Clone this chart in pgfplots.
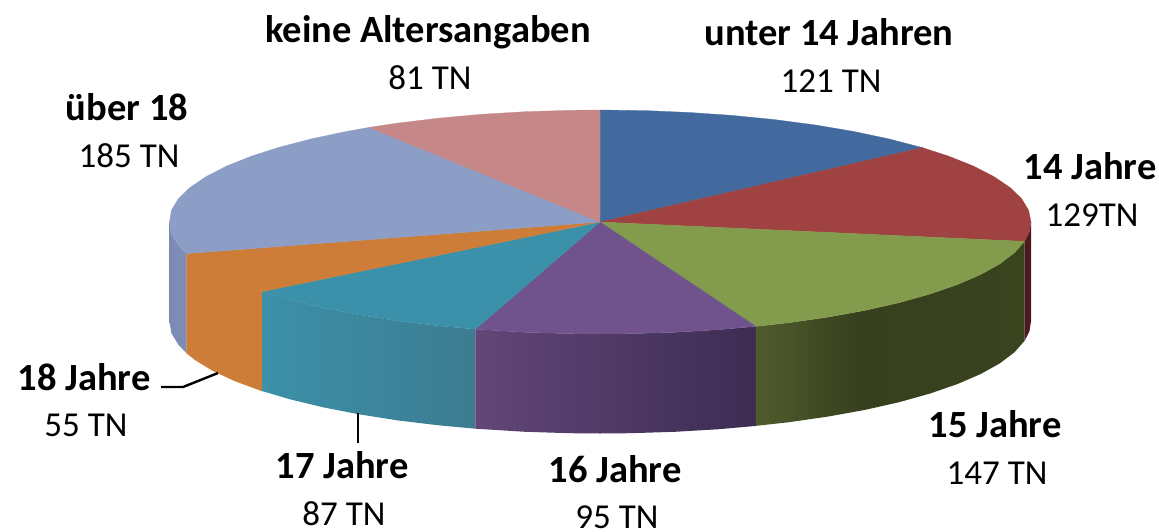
\documentclass[border=0pt]{standalone}
\usepackage{pgfplots}
\pgfplotsset{compat=1.18}
\usepackage{fontspec}
\setmainfont{Carlito}
\definecolor{tblue}{RGB}{66,106,158}
\definecolor{tred}{RGB}{160,65,66}
\definecolor{tgreen}{RGB}{131,155,76}
\definecolor{tpurple}{RGB}{112,82,140}
\definecolor{tteal}{RGB}{60,145,170}
\definecolor{torange}{RGB}{205,125,55}
\definecolor{tlblue}{RGB}{140,157,198}
\definecolor{tpink}{RGB}{197,135,136}
\definecolor{gwa}{RGB}{80,92,45}
\definecolor{gwb}{RGB}{54,64,30}
\definecolor{gwc}{RGB}{57,67,30}
\pgfdeclarehorizontalshading{greenwall}{100bp}{color(0bp)=(gwa); color(25bp)=(gwa); color(44bp)=(gwb); color(75bp)=(gwc); color(100bp)=(gwc)}
\newcommand{\lab}[5]{\node[font=\fontsize{38.5}{38.5}\selectfont\bfseries,inner sep=0pt,anchor=base] at (axis cs:#1,#2) {#4};\node[font=\fontsize{35}{35}\selectfont,inner sep=0pt,anchor=base] at (axis cs:#1+2,#3) {#5};}
\begin{document}
\begin{tikzpicture}
\path[use as bounding box] (0,0) rectangle (1159pt,531pt);
\begin{axis}[scale only axis,width=1159pt,height=531pt,xmin=0,xmax=1159,ymin=0,ymax=531,y dir=reverse,axis lines=none,clip=false]
% side walls
\addplot[draw=none,left color={rgb,255:red,122;green,138;blue,180},right color={rgb,255:red,128;green,142;blue,182}] coordinates {(186.5,253.6)(178.4,245.3)(171.4,233.7)(169.5,222)(169.5,321.5)(171.4,333.2)(178.4,344.8)(186.5,353.1)} --cycle;
\addplot[draw=torange,fill=torange,line width=0.3pt] coordinates {(262.2,291.6)(234.5,281.3)(212.6,271.1)(195,260.3)(186.5,253.6)(186.5,353.1)(195,359.8)(212.6,370.6)(234.5,380.8)(262.2,391.1)} --cycle;
\addplot[draw=none,left color={rgb,255:red,60;green,144;blue,168},middle color={rgb,255:red,60;green,138;blue,162},right color={rgb,255:red,60;green,124;blue,145}] coordinates {(475.4,329.2)(438.5,325.8)(397.6,320.9)(359,314.8)(323,307.8)(290,299.8)(262.2,291.6)(262.2,391.1)(290,399.3)(323,407.3)(359,414.3)(397.6,420.4)(438.5,425.3)(475.4,428.7)} --cycle;
\addplot[draw=none,left color={rgb,255:red,98;green,70;blue,120},right color={rgb,255:red,60;green,44;blue,82}] coordinates {(755.8,326.4)(718.8,329.7)(674.8,332.3)(630.1,333.7)(600,334)(569.9,333.7)(525.2,332.3)(475.4,329.2)(475.4,428.7)(525.2,431.8)(569.9,433.2)(600,433.5)(630.1,433.2)(674.8,431.8)(718.8,429.2)(755.8,425.9)} --cycle;
\addplot[draw=none,shade,shading=greenwall] coordinates {(1024.5,241.4)(1014.3,252.9)(999.6,264)(980.5,274.6)(957.3,284.6)(930.1,294)(899.4,302.6)(865.4,310.3)(828.4,317)(789,322.7)(755.8,326.4)(755.8,425.9)(789,422.2)(828.4,416.5)(865.4,409.8)(899.4,402.1)(930.1,393.5)(957.3,384.1)(980.5,374.1)(999.6,363.5)(1014.3,352.4)(1024.5,340.9)} --cycle;
\addplot[draw=none,fill={rgb,255:red,75;green,25;blue,30}] coordinates {(1031,222)(1029.4,231.8)(1024.5,241.4)(1024.5,340.9)(1029.4,331.3)(1031,321.5)} --cycle;
% top faces
\addplot[draw=tblue,fill=tblue,line width=0.3pt] coordinates {(600,222)(600,110)(645,110.6)(689.6,112.5)(733.2,115.5)(775.3,119.7)(815.5,125)(853.3,131.4)(888.4,138.8)(922.3,147.6)} --cycle;
\addplot[draw=tred,fill=tred,line width=0.3pt] coordinates {(600,222)(922.3,147.6)(948.7,156.2)(973.3,166)(993.7,176.5)(1009.9,187.4)(1021.6,198.7)(1028.6,210.3)(1031,222)(1029.4,231.8)(1024.5,241.4)} --cycle;
\addplot[draw=tgreen,fill=tgreen,line width=0.3pt] coordinates {(600,222)(1024.5,241.4)(1014.3,252.9)(999.6,264)(980.5,274.6)(957.3,284.6)(930.1,294)(899.4,302.6)(865.4,310.3)(828.4,317)(789,322.7)(755.8,326.4)} --cycle;
\addplot[draw=tpurple,fill=tpurple,line width=0.3pt] coordinates {(600,222)(755.8,326.4)(718.8,329.7)(674.8,332.3)(630.1,333.7)(600,334)(569.9,333.7)(525.2,332.3)(475.4,329.2)} --cycle;
\addplot[draw=tteal,fill=tteal,line width=0.3pt] coordinates {(600,222)(475.4,329.2)(438.5,325.8)(397.6,320.9)(359,314.8)(323,307.8)(290,299.8)(262.2,291.6)} --cycle;
\addplot[draw=torange,fill=torange,line width=0.3pt] coordinates {(600,222)(262.2,291.6)(234.5,281.3)(212.6,271.1)(195,260.3)(186.5,253.6)} --cycle;
\addplot[draw=tlblue,fill=tlblue,line width=0.3pt] coordinates {(600,222)(186.5,253.6)(178.4,245.3)(171.4,233.7)(169.5,222)(171.4,210.3)(178.4,198.7)(190.1,187.4)(206.3,176.5)(226.7,166)(251.3,156.2)(279.7,147.1)(311.6,138.8)(346.7,131.4)(369.1,127.4)} --cycle;
\addplot[draw=tpink,fill=tpink,line width=0.3pt] coordinates {(600,222)(369.1,127.4)(397.6,123.1)(438.5,118.2)(481.2,114.3)(525.2,111.7)(569.9,110.3)(600,110)} --cycle;
% leader lines
\addplot[black,line width=2.4pt] coordinates {(161,387)(183,387)(218,373)};
\addplot[black,line width=2.4pt] coordinates {(358,413)(358,443)};
% labels
\lab{428}{42}{89}{keine Altersangaben}{81 TN}
\lab{829}{45}{92}{unter 14 Jahren}{121 TN}
\lab{1090}{179}{226}{14 Jahre}{129TN}
\lab{127}{120}{167}{über 18}{185 TN}
\lab{84}{390}{436}{18 Jahre}{55 TN}
\lab{342}{478}{525}{17 Jahre}{87 TN}
\lab{615}{482}{528}{16 Jahre}{95 TN}
\lab{995}{437}{484}{15 Jahre}{147 TN}
\end{axis}
\end{tikzpicture}
\end{document}
